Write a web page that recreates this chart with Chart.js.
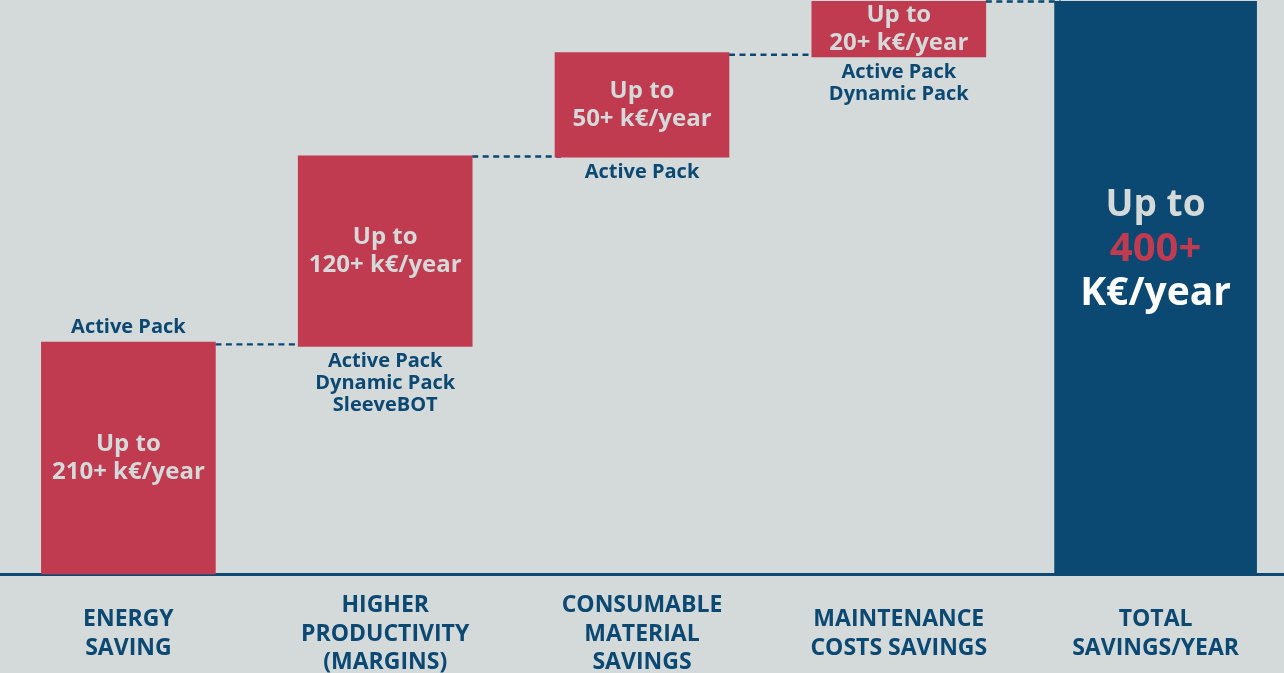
<!DOCTYPE html>
<html>
<head>
<meta charset="utf-8">
<script src="https://cdn.jsdelivr.net/npm/chart.js@4"></script>
<style>
  html, body { margin: 0; padding: 0; background: #d4d9da; }
  #wrap { width: 1284px; height: 673px; position: relative; }
</style>
</head>
<body>
<div id="wrap"><canvas id="c"></canvas></div>
<script>
// ---- data ----
const categories = [
  ["ENERGY", "SAVING"],
  ["HIGHER", "PRODUCTIVITY", "(MARGINS)"],
  ["CONSUMABLE", "MATERIAL", "SAVINGS"],
  ["MAINTENANCE", "COSTS SAVINGS"],
  ["TOTAL", "SAVINGS/YEAR"]
];
const barStart = [0, 159, 291, 361, 0];
const barEnd   = [162, 292, 364, 400, 400];
const amounts  = ["210+", "120+", "50+", "20+", "400+"];
const amountUnit = "k€/year";
const totalUnit  = "K€/year";
const prefix     = "Up to";
const packs = [
  ["Active Pack"],
  ["Active Pack", "Dynamic Pack", "SleeveBOT"],
  ["Active Pack"],
  ["Active Pack", "Dynamic Pack"],
  []
];
const packSide = ["above", "below", "below", "below", "none"];
const totalIndex = 4;

// ---- styles ----
const BG = '#d4d9da';
const RED = '#c13b50';
const NAVY = '#0b4872';
const FONT = '"Open Sans", "Noto Sans", sans-serif';

const savingsData = categories.map((c, i) => i === totalIndex ? null : [barStart[i], barEnd[i]]);
const totalData = categories.map((c, i) => i === totalIndex ? [barStart[i], barEnd[i]] : null);

const annotatePlugin = {
  id: 'annotate',
  beforeDatasetsDraw(chart) {
    const ctx = chart.ctx;
    const y = chart.scales.y;
    const metaS = chart.getDatasetMeta(0);
    const metaT = chart.getDatasetMeta(1);
    const bar = i => (i === totalIndex ? metaT.data[i] : metaS.data[i]);
    ctx.save();
    ctx.strokeStyle = NAVY;
    ctx.lineWidth = 2.4;
    ctx.setLineDash([6, 4.5]);
    for (let i = 0; i < categories.length - 1; i++) {
      const a = bar(i), b = bar(i + 1);
      const nextLevel = (i + 1 === totalIndex) ? barEnd[i + 1] : barStart[i + 1];
      const yy = Math.max(y.getPixelForValue((barEnd[i] + nextLevel) / 2), 1.5);
      const x0 = a.x + a.width / 2;
      const x1 = b.x - b.width / 2 + 6;
      ctx.beginPath();
      ctx.moveTo(x0, yy);
      ctx.lineTo(x1, yy);
      ctx.stroke();
    }
    ctx.restore();
  },
  afterDatasetsDraw(chart) {
    const ctx = chart.ctx;
    const metaS = chart.getDatasetMeta(0);
    const metaT = chart.getDatasetMeta(1);
    ctx.save();
    ctx.textAlign = 'center';
    ctx.textBaseline = 'middle';
    categories.forEach((c, i) => {
      const el = i === totalIndex ? metaT.data[i] : metaS.data[i];
      const top = Math.min(el.y, el.base), bottom = Math.max(el.y, el.base);
      const cx = el.x;
      if (i === totalIndex) {
        const mid = (top + bottom) / 2 - 38;
        const lh = 44;
        ctx.font = '700 37px ' + FONT;
        ctx.fillStyle = BG;
        ctx.fillText(prefix, cx, mid - lh);
        ctx.font = '700 40px ' + FONT;
        ctx.fillStyle = RED;
        ctx.fillText(amounts[i], cx, mid);
        ctx.font = '700 39px ' + FONT;
        ctx.fillStyle = '#ffffff';
        ctx.fillText(totalUnit, cx, mid + lh);
      } else {
        const mid = (top + bottom) / 2;
        const lh = 28.5;
        ctx.font = '700 24px ' + FONT;
        ctx.fillStyle = BG;
        ctx.fillText(prefix, cx, mid - lh / 2);
        ctx.fillText(amounts[i] + ' ' + amountUnit, cx, mid + lh / 2);
      }
      // pack labels
      const lines = packs[i];
      ctx.font = '700 20px ' + FONT;
      ctx.fillStyle = NAVY;
      const plh = 22;
      if (packSide[i] === 'above') {
        lines.forEach((t, k) => {
          ctx.fillText(t, cx, top - 15 - (lines.length - 1 - k) * plh);
        });
      } else if (packSide[i] === 'below') {
        lines.forEach((t, k) => {
          ctx.fillText(t, cx, bottom + 15 + k * plh);
        });
      }
    });
    ctx.restore();
  }
};

new Chart(document.getElementById('c'), {
  type: 'bar',
  data: {
    labels: categories,
    datasets: [
      {
        label: 'Savings',
        data: savingsData,
        backgroundColor: RED,
        borderWidth: 0,
        barThickness: 174,
        grouped: false
      },
      {
        label: 'Total',
        data: totalData,
        backgroundColor: NAVY,
        borderWidth: 0,
        barThickness: 202,
        grouped: false
      }
    ]
  },
  options: {
    responsive: true,
    maintainAspectRatio: false,
    animation: false,
    layout: { padding: { top: 1, left: 0, right: 0, bottom: -49 } },
    plugins: {
      legend: { display: false },
      tooltip: { enabled: false },
      title: { display: false }
    },
    scales: {
      x: {
        grid: { display: false, drawTicks: false },
        border: { display: true, color: NAVY, width: 3 },
        ticks: {
          color: NAVY,
          font: { family: FONT, size: 23, weight: '700', lineHeight: 1.24 },
          padding: 31,
          crossAlign: 'center',
          maxRotation: 0,
          autoSkip: false
        }
      },
      y: {
        display: false,
        min: 0,
        max: 400
      }
    }
  },
  plugins: [annotatePlugin]
});
</script>
</body>
</html>
